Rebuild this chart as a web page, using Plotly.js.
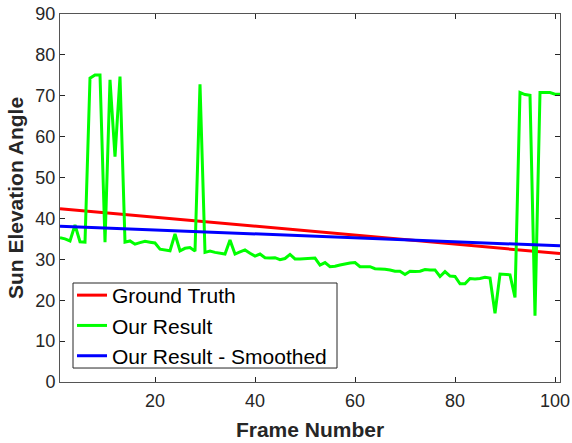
<!DOCTYPE html>
<html>
<head>
<meta charset="utf-8">
<script src="https://cdn.plot.ly/plotly-3.0.1.min.js"></script>
<style>html,body{margin:0;padding:0;background:#fff;}#chart{width:572px;height:443px;}</style>
</head>
<body>
<div id="chart"></div>
<script>
// Frame numbers 1..101
const frames = [];
for (let f = 1; f <= 101; f++) frames.push(f);

// Our Result (per frame)
const ourResult = [
  35.3, 35.0, 34.5, 38.4, 34.3, 34.2, 74.3, 75.1, 75.1, 34.2,
  73.9, 55.1, 74.7, 34.2, 34.5, 33.7, 34.1, 34.4, 34.2, 34.0,
  32.5, 32.3, 32.1, 36.2, 32.1, 32.7, 32.9, 32.0, 72.8, 31.7,
  32.0, 31.7, 31.5, 31.3, 34.7, 31.3, 31.8, 32.3, 31.5, 30.8,
  31.3, 30.4, 30.3, 30.4, 29.9, 30.2, 31.2, 30.1, 30.1, 30.2,
  30.3, 30.3, 28.6, 29.2, 28.2, 28.3, 28.6, 28.9, 29.1, 29.2,
  28.2, 28.2, 28.2, 27.7, 27.7, 27.6, 27.4, 27.1, 27.1, 26.3,
  27.1, 27.0, 27.1, 27.5, 27.4, 27.4, 25.8, 27.0, 25.9, 25.8,
  24.0, 24.0, 25.3, 25.2, 25.3, 25.6, 25.4, 16.8, 26.4, 26.3,
  26.2, 20.7, 70.8, 70.3, 70.1, 16.2, 70.8, 70.8, 70.8, 70.4,
  70.4
];

// Straight lines: endpoints at first and last frame
const lineFrames = [1, 101];
const groundTruth = [42.4, 31.4];
const smoothed = [38.1, 33.3];

const xTicks = [20, 40, 60, 80, 100];
const yTicks = [0, 10, 20, 30, 40, 50, 60, 70, 80, 90];

const axisColor = '#262626';
const fontFam = '"Liberation Sans", Arial, Helvetica, sans-serif';

const traces = [
  {x: lineFrames, y: groundTruth, name: 'Ground Truth', type: 'scatter', mode: 'lines',
   line: {color: '#ff0000', width: 3}},
  {x: frames, y: ourResult, name: 'Our Result', type: 'scatter', mode: 'lines',
   line: {color: '#00ff00', width: 3}},
  {x: lineFrames, y: smoothed, name: 'Our Result - Smoothed', type: 'scatter', mode: 'lines',
   line: {color: '#0000ff', width: 3}}
];

const layout = {
  width: 572, height: 443,
  margin: {l: 60, r: 12, t: 14, b: 61, pad: 0},
  paper_bgcolor: '#fff', plot_bgcolor: '#fff',
  font: {family: fontFam, color: axisColor},
  showlegend: true,
  legend: {
    x: 0.024, y: 0.2908, xanchor: 'left', yanchor: 'top',
    bgcolor: 'rgba(0,0,0,0)', borderwidth: 0,
    font: {family: fontFam, size: 21, color: '#000'},
    itemwidth: 30, tracegroupgap: 0
  },
  shapes: [{
    type: 'rect', xref: 'paper', yref: 'paper', layer: 'above',
    x0: 0.026, x1: 0.554, y0: 0.038, y1: 0.269,
    line: {color: '#262626', width: 1}, fillcolor: '#ffffff'
  }],
  xaxis: {
    range: [1, 101], tickvals: xTicks, ticktext: xTicks.map(String),
    ticks: 'inside', ticklen: 5, tickwidth: 1, tickcolor: axisColor,
    showline: true, linecolor: '#555', linewidth: 1, mirror: 'ticks',
    showgrid: false, zeroline: false, ticklabelstandoff: 2,
    tickfont: {family: fontFam, size: 18, color: axisColor},
    title: {text: 'Frame Number', font: {family: fontFam, size: 21, color: axisColor, weight: 'bold'}, standoff: 12}
  },
  yaxis: {
    range: [0, 90], tickvals: yTicks, ticktext: yTicks.map(String),
    ticks: 'inside', ticklen: 5, tickwidth: 1, tickcolor: axisColor,
    showline: true, linecolor: '#555', linewidth: 1, mirror: 'ticks',
    showgrid: false, zeroline: false,
    tickfont: {family: fontFam, size: 18, color: axisColor},
    title: {text: 'Sun Elevation Angle', font: {family: fontFam, size: 21, color: axisColor, weight: 'bold'}, standoff: 6}
  }
};

Plotly.newPlot('chart', traces, layout, {staticPlot: true, displayModeBar: false});
</script>
</body>
</html>
